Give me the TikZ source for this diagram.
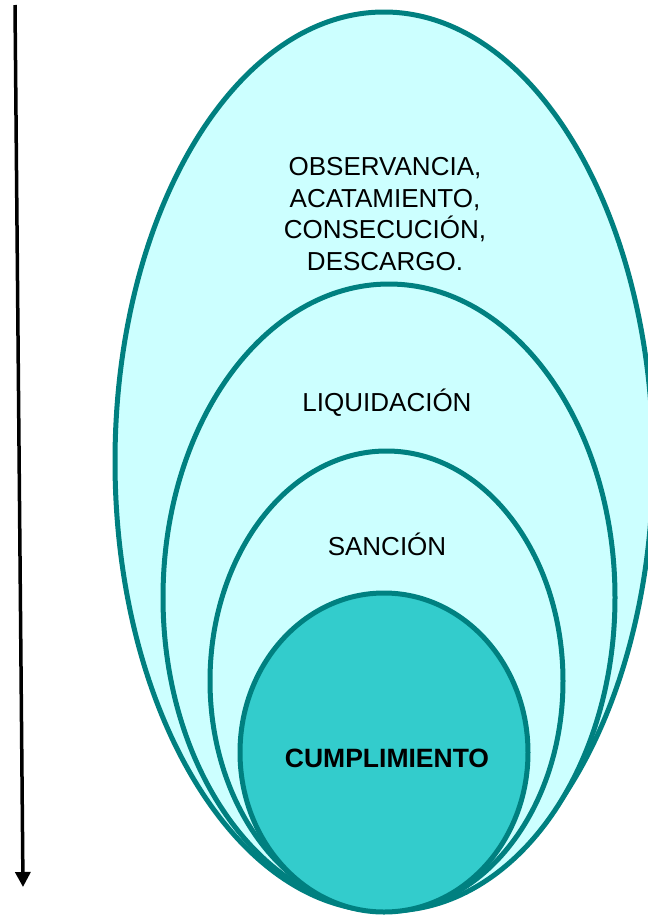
\documentclass[tikz,border=0pt]{standalone}
\usepackage{fontspec}
\setmainfont{Liberation Sans}
\usetikzlibrary{shapes.geometric, arrows.meta}

\definecolor{rimteal}{HTML}{008080}
\definecolor{palecyan}{HTML}{CCFFFF}
\definecolor{coreteal}{HTML}{33CCCC}

\begin{document}
\begin{tikzpicture}[
        x=1pt, y=-1pt,
        % Global Styles
        shell/.style={ellipse, draw=rimteal, line width=5pt, fill=palecyan, inner sep=0pt},
        core/.style={shell, fill=coreteal},
        tag/.style={font=\fontsize{26}{31.5}\selectfont, align=center, text=black},
        flow/.style={draw, line width=3.5pt, -{Triangle[length=15pt, width=15pt]}} % Downward arrow
    ]
    \useasboundingbox (0,0) rectangle (648,919);

    % --- Nodes ---

    % 1. Nested ellipses (outer to inner)
    \node [shell, minimum width=538pt, minimum height=899pt] (observancia) at (384,461.5) {};
    \node [shell, minimum width=452pt, minimum height=627pt] (liquidacion) at (389,597.5) {};
    \node [shell, minimum width=353pt, minimum height=460pt] (sancion) at (386.5,681) {};
    \node [core, minimum width=288pt, minimum height=319pt] (cumplimiento) at (384,752.5) {};

    % 2. Labels
    \node [tag] (obsText) at (385,214) {OBSERVANCIA,\\ACATAMIENTO,\\CONSECUCIÓN,\\DESCARGO.};
    \node [tag] (liqText) at (387,403) {LIQUIDACIÓN};
    \node [tag] (sanText) at (387,544) {SANCIÓN};
    \node [tag, font=\fontsize{26.5}{31.5}\selectfont\bfseries] (cumText) at (387,758) {CUMPLIMIENTO};

    % --- Paths ---
    \coordinate (arrowTop) at (15,5);
    \coordinate (arrowTip) at (23,887);
    \draw [flow] (arrowTop) -- (arrowTip);

\end{tikzpicture}
\end{document}
